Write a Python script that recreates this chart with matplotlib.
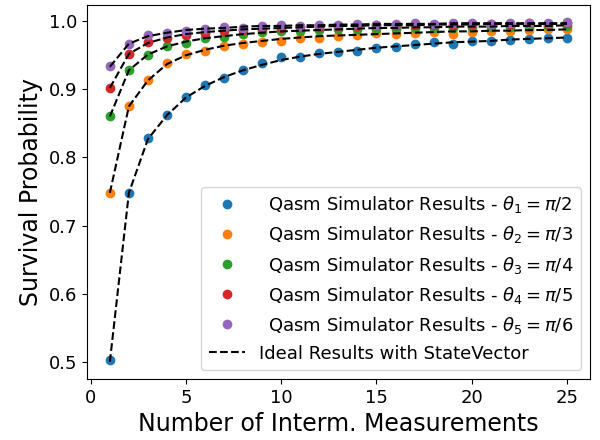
import numpy as np
import matplotlib
matplotlib.use("Agg")
import matplotlib.pyplot as plt

n_meas = np.arange(1, 26)

labels = [" \u2009Qasm Simulator Results - $\\theta_1 = \\pi/2$",
          " \u2009Qasm Simulator Results - $\\theta_2 = \\pi/3$",
          " \u2009Qasm Simulator Results - $\\theta_3 = \\pi/4$",
          " \u2009Qasm Simulator Results - $\\theta_4 = \\pi/5$",
          " \u2009Qasm Simulator Results - $\\theta_5 = \\pi/6$"]

# simulator results
qasm_1 = [0.502, 0.748, 0.828, 0.862, 0.888, 0.907, 0.917, 0.928, 0.939, 0.947, 0.948, 0.954, 0.955,
          0.956, 0.960, 0.962, 0.966, 0.970, 0.967, 0.971, 0.971, 0.972, 0.974, 0.976, 0.975]
qasm_2 = [0.748, 0.875, 0.913, 0.938, 0.952, 0.956, 0.964, 0.967, 0.970, 0.971, 0.976, 0.976, 0.978,
          0.980, 0.982, 0.981, 0.982, 0.984, 0.981, 0.984, 0.985, 0.985, 0.987, 0.988, 0.989]
qasm_3 = [0.861, 0.929, 0.950, 0.964, 0.968, 0.975, 0.977, 0.981, 0.984, 0.985, 0.986, 0.987, 0.988,
          0.988, 0.989, 0.989, 0.990, 0.990, 0.990, 0.991, 0.991, 0.992, 0.992, 0.993, 0.993]
qasm_4 = [0.902, 0.952, 0.969, 0.976, 0.980, 0.983, 0.986, 0.987, 0.989, 0.990, 0.991, 0.992, 0.993,
          0.993, 0.994, 0.994, 0.995, 0.995, 0.995, 0.996, 0.996, 0.996, 0.997, 0.996, 0.997]
qasm_5 = [0.934, 0.967, 0.979, 0.982, 0.986, 0.989, 0.991, 0.990, 0.993, 0.994, 0.993, 0.995, 0.995,
          0.996, 0.995, 0.996, 0.997, 0.996, 0.997, 0.997, 0.996, 0.997, 0.998, 0.997, 0.999]

# statevector results
ideal_1 = [0.500, 0.748, 0.827, 0.862, 0.888, 0.905, 0.918, 0.928, 0.936, 0.943, 0.948, 0.952, 0.955,
           0.958, 0.961, 0.963, 0.965, 0.967, 0.969, 0.970, 0.971, 0.973, 0.974, 0.975, 0.976]
ideal_2 = [0.748, 0.875, 0.913, 0.937, 0.950, 0.958, 0.964, 0.968, 0.971, 0.974, 0.976, 0.978, 0.979,
           0.980, 0.981, 0.982, 0.983, 0.984, 0.985, 0.985, 0.986, 0.986, 0.987, 0.987, 0.988]
ideal_3 = [0.860, 0.928, 0.951, 0.963, 0.970, 0.975, 0.978, 0.981, 0.983, 0.985, 0.986, 0.987, 0.988,
           0.989, 0.990, 0.990, 0.991, 0.991, 0.992, 0.992, 0.992, 0.993, 0.993, 0.993, 0.994]
ideal_4 = [0.902, 0.952, 0.968, 0.976, 0.981, 0.984, 0.986, 0.988, 0.989, 0.990, 0.991, 0.992, 0.993,
           0.993, 0.994, 0.994, 0.994, 0.995, 0.995, 0.995, 0.996, 0.996, 0.996, 0.996, 0.996]
ideal_5 = [0.933, 0.967, 0.978, 0.983, 0.987, 0.989, 0.990, 0.992, 0.993, 0.993, 0.994, 0.994, 0.995,
           0.995, 0.996, 0.996, 0.996, 0.996, 0.997, 0.997, 0.997, 0.997, 0.997, 0.997, 0.997]

qasm = [qasm_1, qasm_2, qasm_3, qasm_4, qasm_5]
ideal = [ideal_1, ideal_2, ideal_3, ideal_4, ideal_5]
colors = ["tab:blue", "tab:orange", "tab:green", "tab:red", "tab:purple"]

fig = plt.figure(figsize=(6, 4.4), dpi=100)
ax = fig.add_axes([0.145, 0.139, 0.838, 0.85])

for vals, lab, col in zip(qasm, labels, colors):
    ax.plot(n_meas, vals, "o", color=col, label=lab, markersize=6)

for i, vals in enumerate(ideal):
    lab = "Ideal Results with StateVector" if i == len(ideal) - 1 else None
    ax.plot(n_meas, vals, "--", color="black", lw=1.5, label=lab)

ax.set_xlabel("Number of Interm. Measurements", fontsize=17)
ax.set_ylabel("Survival Probability", fontsize=17)
ax.tick_params(labelsize=13)
ax.legend(loc="lower right", fontsize=13)

fig.savefig("out.png")
